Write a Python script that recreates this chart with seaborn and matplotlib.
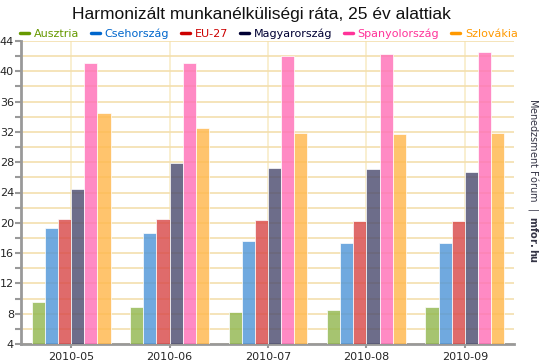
import matplotlib
matplotlib.use("Agg")
import matplotlib.pyplot as plt
from matplotlib.lines import Line2D
from matplotlib.ticker import MultipleLocator
import seaborn as sns
import pandas as pd

months = ["2010-05", "2010-06", "2010-07", "2010-08", "2010-09"]
countries = ["Ausztria", "Csehország", "EU-27", "Magyarország", "Spanyolország", "Szlovákia"]
ausztria = [9.5, 8.9, 8.2, 8.5, 8.9]
csehorszag = [19.3, 18.6, 17.6, 17.3, 17.3]
eu27 = [20.5, 20.5, 20.4, 20.3, 20.3]
magyarorszag = [24.5, 27.9, 27.3, 27.1, 26.7]
spanyolorszag = [41.1, 41.1, 42.0, 42.3, 42.5]
szlovakia = [34.5, 32.5, 31.9, 31.7, 31.9]
colors = ["#669900", "#0066cc", "#cc0000", "#000033", "#ff3399", "#ff9900"]
bar_colors = ["#93b850", "#5096d9", "#d94a4a", "#4d4d70", "#ff70b8", "#ffb84d"]

series = [ausztria, csehorszag, eu27, magyarorszag, spanyolorszag, szlovakia]
rows = []
for name, vals in zip(countries, series):
    for m, v in zip(months, vals):
        rows.append({"month": m, "country": name, "value": v})
df = pd.DataFrame(rows)

sns.set_style("white")
plt.rcParams["font.family"] = ["DejaVu Sans"]

fig = plt.figure(figsize=(5.45, 3.64), dpi=100)
ax = fig.add_axes([21 / 545, 1 - 344 / 364, 493 / 545, 303 / 364])

sns.barplot(data=df, x="month", y="value", hue="country", hue_order=countries,
            palette=bar_colors, saturation=1, alpha=0.82, edgecolor="white",
            linewidth=0.6, width=0.8, ax=ax, legend=False, zorder=3)

ax.set_ylim(4, 44)
ax.set_xlim(-0.51, 4.5)
ax.yaxis.set_major_locator(MultipleLocator(4))
ax.yaxis.set_minor_locator(MultipleLocator(2))
ax.grid(True, which="both", axis="y", color="#f3dfae", linewidth=1.2, zorder=0)
ax.grid(True, which="major", axis="x", color="#f8ecc8", linewidth=1.2, zorder=0)
ax.set_axisbelow(True)
ax.set_xlabel("")
ax.set_ylabel("")
for s in ["top", "right"]:
    ax.spines[s].set_visible(False)
for s in ["left", "bottom"]:
    ax.spines[s].set_color("#999999")
    ax.spines[s].set_linewidth(2)
ax.tick_params(axis="y", which="both", left=True, length=4, width=1.5,
               color="#999999", labelsize=8, pad=1)
ax.tick_params(axis="x", bottom=True, length=3, width=1.5, color="#999999",
               labelsize=8, pad=3)

handles = [Line2D([0], [0], color=c, linewidth=2.5) for c in colors]
leg = fig.legend(handles, countries, loc="center", bbox_to_anchor=(269 / 545, 1 - 34 / 364),
                 ncol=6, frameon=False, fontsize=8, handlelength=0.8,
                 handletextpad=0.4, columnspacing=1.1)
for t, c in zip(leg.get_texts(), colors):
    t.set_color(c)

fig.text(261 / 545, 1 - 14 / 364, "Harmonizált munkanélküliségi ráta, 25 év alattiak",
         ha="center", va="center", fontsize=12.5, family="Liberation Sans",
         color="#111111")

fig.text(533 / 545, 1 - 181 / 364, r"Menedzsment Fórum  |  $\mathbf{mfor.hu}$",
         rotation=-90, ha="center", va="center", fontsize=7, color="#333344")

fig.savefig("out.png", dpi=100)
